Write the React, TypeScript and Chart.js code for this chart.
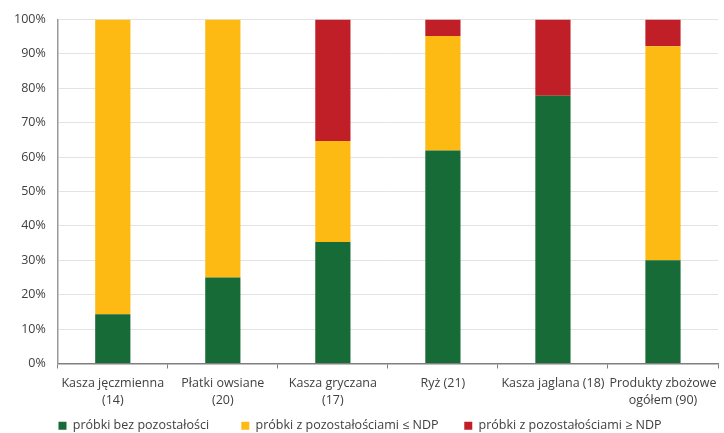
import React, { useEffect, useRef } from "react";
import { Chart, registerables } from "chart.js";

Chart.register(...registerables);

const categories: (string | string[])[] = [
  ["Kasza jęczmienna", "(14)"],
  ["Płatki owsiane", "(20)"],
  ["Kasza gryczana", "(17)"],
  "Ryż (21)",
  "Kasza jaglana (18)",
  ["Produkty zbożowe", "ogółem (90)"],
];
const seriesNames = [
  "próbki bez pozostałości",
  "próbki z pozostałościami ≤ NDP",
  "próbki z pozostałościami ≥ NDP",
];
const noResidue = [14.3, 25, 35.3, 61.9, 77.8, 30];
const belowMrl = [85.7, 75, 29.4, 33.3, 0, 62.2];
const aboveMrl = [0, 0, 35.3, 4.8, 22.2, 7.8];
const yTicks = [0, 10, 20, 30, 40, 50, 60, 70, 80, 90, 100];

const colors = ["#176b37", "#fdba12", "#c11f27"];
const FONT = "'Open Sans', 'DejaVu Sans', sans-serif";
const legendGaps = ["         ", "       ", ""];

export default function App() {
  const ref = useRef<HTMLCanvasElement | null>(null);
  useEffect(() => {
    if (!ref.current) return;
    const chart = new Chart(ref.current, {
      type: "bar",
      data: {
        labels: categories,
        datasets: [noResidue, belowMrl, aboveMrl].map((d, i) => ({
          label: seriesNames[i],
          data: d,
          backgroundColor: colors[i],
          borderWidth: 0,
          barPercentage: 0.64,
          categoryPercentage: 0.5,
        })),
      },
      options: {
        responsive: false,
        animation: false,
        layout: { padding: { top: 10, right: 6, left: 2, bottom: -9 } },
        plugins: {
          tooltip: { enabled: false },
          legend: {
            position: "bottom",
            labels: {
              boxWidth: 8,
              boxHeight: 8,
              padding: 3,
              color: "#404040",
              font: { family: FONT, size: 12.5 },
              generateLabels: (c: any) =>
                c.data.datasets.map((ds: any, i: number) => ({
                  text: ds.label + legendGaps[i],
                  fillStyle: ds.backgroundColor,
                  strokeStyle: ds.backgroundColor,
                  lineWidth: 0,
                  datasetIndex: i,
                  fontColor: "#404040",
                })),
            },
          },
        },
        scales: {
          x: {
            stacked: true,
            afterFit: (scale: any) => {
              scale.height += 1;
            },
            grid: {
              drawOnChartArea: false,
              drawTicks: true,
              tickLength: 5,
              color: "#7f7f7f",
            },
            border: { color: "#7f7f7f", width: 1.5 },
            ticks: {
              autoSkip: false,
              maxRotation: 0,
              minRotation: 0,
              color: "#404040",
              font: { family: FONT, size: 12.5, lineHeight: 1.4 },
              padding: 6,
            },
          },
          y: {
            stacked: true,
            min: 0,
            max: 100,
            afterBuildTicks: (axis: any) => {
              axis.ticks = yTicks.map((v) => ({ value: v }));
            },
            grid: { color: "#e3e3e3", drawTicks: false, lineWidth: 1 },
            border: { color: "#9a9a9a", width: 1.5 },
            ticks: {
              color: "#404040",
              font: { family: FONT, size: 12.5 },
              padding: 12,
              callback: (v: any) => v + "%",
            },
          },
        },
      },
    });
    return () => chart.destroy();
  }, []);
  return (
    <div style={{ position: "fixed", left: 0, top: 0, width: 724, height: 433, background: "#fff" }}>
      <canvas ref={ref} width={724} height={433} />
    </div>
  );
}
